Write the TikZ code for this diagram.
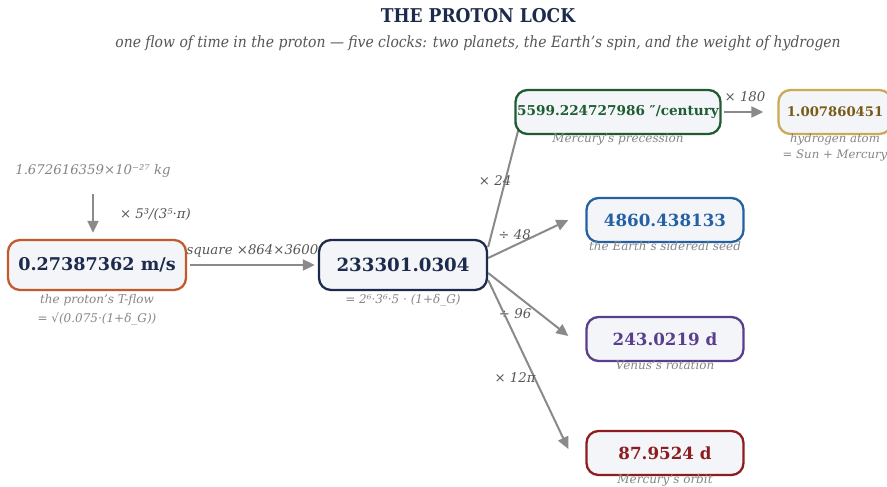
\documentclass[tikz,border=0pt]{standalone}
\usepackage{fontspec}
\setmainfont{DejaVu Serif}
\newfontfamily\uzky{DejaVu Serif Condensed}
\usetikzlibrary{positioning,arrows.meta,calc,backgrounds}
\definecolor{inkN}{HTML}{1C2A4B}
\definecolor{inkO}{HTML}{C25A2C}
\definecolor{inkG}{HTML}{1F5C32}
\definecolor{inkY}{HTML}{CBA955}
\definecolor{txtY}{HTML}{7A5A17}
\definecolor{inkB}{HTML}{2561A2}
\definecolor{inkP}{HTML}{5A3E8E}
\definecolor{inkR}{HTML}{8C1D1F}
\definecolor{vypln}{HTML}{F3F5F9}
\definecolor{sipC}{HTML}{8A8A8A}
\definecolor{popC}{HTML}{858585}
\definecolor{krokC}{HTML}{555555}
\tikzset{
  box/.style={rectangle,rounded corners=12pt,line width=2.3pt,fill=vypln,inner sep=1pt,minimum width=157pt,minimum height=44pt,font=\bfseries\fontsize{16.7}{18}\selectfont},
  boxO/.style={box,draw=inkO,text=inkN,minimum width=178pt,minimum height=50pt,font=\bfseries\fontsize{17.6}{19}\selectfont},
  boxN/.style={box,draw=inkN,text=inkN,minimum width=168pt,minimum height=50pt,font=\bfseries\fontsize{18.2}{19}\selectfont},
  boxG/.style={box,draw=inkG,text=inkG,minimum width=205pt,font=\bfseries\fontsize{13.6}{15}\selectfont},
  boxY/.style={box,draw=inkY,text=txtY,minimum width=113pt,font=\bfseries\fontsize{13.2}{15}\selectfont},
  boxB/.style={box,draw=inkB,text=inkB},
  boxP/.style={box,draw=inkP,text=inkP},
  boxR/.style={box,draw=inkR,text=inkR},
  popis/.style={inner sep=0pt,align=center,text=popC,font=\itshape\fontsize{12}{16}\selectfont},
  krok/.style={inner sep=0pt,text=krokC,font=\itshape\fontsize{13.3}{15}\selectfont},
  sip/.style={-{Triangle[length=12pt,width=11pt]},line width=2pt,draw=sipC},
}
\begin{document}
\begin{tikzpicture}[x=1pt,y=-1pt]
  \useasboundingbox (0,0) rectangle (887,487);
  \node[text=inkN,font=\uzky\bfseries\fontsize{19}{21}\selectfont] (title) at (478,16) {THE PROTON LOCK};
  \node[text=krokC,font=\uzky\itshape\fontsize{15.5}{17}\selectfont] (sub) at (478,43) {one flow of time in the proton — five clocks: two planets, the Earth’s spin, and the weight of hydrogen};

  \node[boxO] (tflow) at (97,265) {0.27387362 m/s};
  \node[boxN] (hub) at (403,265) {233301.0304};
  \node[boxG] (prec) at (618,112) {5599.224727986 ″/century};
  \node[boxY] (hyd) at (835,112) {1.007860451};
  \node[boxB] (earth) at (665,220) {4860.438133};
  \node[boxP] (venus) at (665,339) {243.0219 d};
  \node[boxR] (merc) at (665,453) {87.9524 d};
  \node[krok,text=popC,font=\itshape\fontsize{13.3}{15}\selectfont] (mass) at (93,171) {1.672616359×10⁻²⁷ kg};

  \node[popis,font=\itshape\fontsize{12}{19}\selectfont] (tflowcap) [below=3pt of tflow] {the proton’s T-flow\\= √(0.075·(1+δ\_G))};
  \node[popis] (hubcap) [below=3pt of hub] {= 2⁶·3⁶·5 · (1+δ\_G)};
  \node[popis] (preccap) [below=-2pt of prec] {Mercury’s precession};
  \node[popis,font=\itshape\fontsize{11.7}{16}\selectfont] (hydcap) [below=-2pt of hyd] {hydrogen atom\\= Sun + Mercury};
  \node[popis] (earthcap) [below=-2pt of earth] {the Earth’s sidereal seed};
  \node[popis] (venuscap) [below=-2pt of venus] {Venus’s rotation};
  \node[popis] (merccap) [below=-2pt of merc] {Mercury’s orbit};

  \begin{scope}[on background layer]
    \draw[sip,shorten <=16pt,shorten >=6pt] (mass.south) -- (mass.south |- tflow.north)
      node[krok,pos=0.6,anchor=west,xshift=26pt] {× 5³/(3⁵·π)};
    \draw[sip,shorten <=3pt,shorten >=3pt] (tflow) -- (hub)
      node[krok,midway,above=7pt] {square ×864×3600};
    \draw[sip] ([yshift=18pt]hub.east) -- ([xshift=8pt,yshift=21pt]prec.south west)
      node[krok,pos=0.5,left=-7pt] {× 24};
    \draw[sip] ([yshift=7pt]hub.east) -- ([xshift=-17pt]earth.west)
      node[krok,pos=0.33,above=5pt] {÷ 48};
    \draw[sip] ([yshift=-8pt]hub.east) -- ([xshift=-17pt,yshift=3pt]venus.west)
      node[krok,pos=0.45,below left=6pt and -8pt] {÷ 96};
    \draw[sip] ([yshift=-15pt]hub.east) -- ([xshift=-17pt,yshift=4pt]merc.west)
      node[krok,pos=0.58,left=-2pt] {× 12π};
    \draw[sip,shorten <=2pt,shorten >=14pt] (prec) -- (hyd)
      node[krok,pos=0.42,above=9pt] {× 180};
  \end{scope}
\end{tikzpicture}
\end{document}
